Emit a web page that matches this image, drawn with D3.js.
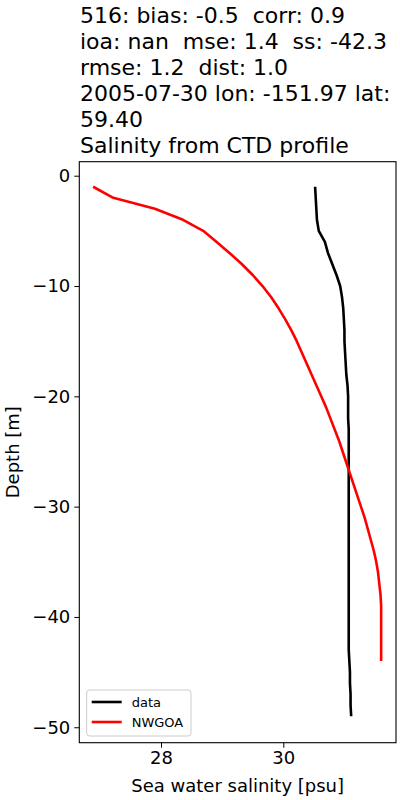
<!DOCTYPE html>
<html><head><meta charset="utf-8">
<script src="https://cdn.jsdelivr.net/npm/d3@7"></script>
<style>body{margin:0;background:#fff}svg{display:block}text{font-family:"DejaVu Sans",sans-serif;white-space:pre}</style>
</head><body><svg id="c" width="400" height="800"></svg>
<script>
const titleLines = ["516: bias: -0.5  corr: 0.9","ioa: nan  mse: 1.4  ss: -42.3","rmse: 1.2  dist: 1.0","2005-07-30 lon: -151.97 lat:","59.40","Salinity from CTD profile"];
const xTicks = [28, 30];
const yTicks = [0, -10, -20, -30, -40, -50];
const dataDepth = [-1,-2,-3,-4,-5,-6,-7,-8,-9,-10,-11,-12,-13,-14,-15,-16,-17,-18,-19,-20,-21,-22,-23,-24,-25,-26,-27,-28,-29,-30,-31,-32,-33,-34,-35,-36,-37,-38,-39,-40,-41,-42,-43,-44,-45,-46,-47,-48,-49];
const dataSal = [30.52,30.53,30.54,30.55,30.58,30.68,30.73,30.80,30.87,30.93,30.96,30.98,30.99,31.00,31.00,31.01,31.02,31.03,31.05,31.06,31.06,31.06,31.07,31.07,31.07,31.07,31.07,31.07,31.07,31.07,31.07,31.07,31.07,31.07,31.07,31.07,31.07,31.07,31.07,31.07,31.07,31.07,31.07,31.08,31.09,31.09,31.10,31.10,31.11];
const modelDepth = [-1,-2,-3,-4,-5,-6,-7,-8,-9,-10,-11,-12,-13,-14,-15,-16,-17,-18,-19,-20,-21,-22,-23,-24,-25,-26,-27,-28,-29,-30,-31,-32,-33,-34,-35,-36,-37,-38,-39,-40,-41,-42,-43,-44];
const modelSal = [26.89,27.22,27.90,28.36,28.69,28.91,29.12,29.32,29.50,29.66,29.80,29.92,30.03,30.13,30.22,30.30,30.38,30.46,30.54,30.62,30.70,30.77,30.84,30.91,30.97,31.03,31.09,31.15,31.21,31.27,31.33,31.38,31.43,31.48,31.52,31.55,31.57,31.59,31.60,31.60,31.60,31.60,31.60,31.60];
const seriesNames = ["data","NWGOA"];
const seriesColors = ["#000000","#ff0000"];

const svg = d3.select("#c");
const L = 79.3, R = 396, T = 161.7, B = 742.7;
const x = d3.scaleLinear().domain([26.664, 31.843]).range([L, R]);
const y = d3.scaleLinear().domain([1.27, -51.4]).range([T, B]);

// title
const tt = svg.append("text").attr("x", 80).attr("font-size", 22).attr("fill","#000");
titleLines.forEach((t,i)=>tt.append("tspan").attr("x",80).attr("y",22.5+i*26.1).text(t));

// lines
const line = d3.line().x(d=>x(d[0])).y(d=>y(d[1]));
const series = [d3.zip(dataSal, dataDepth), d3.zip(modelSal, modelDepth)];
series.forEach((s,i)=>{
  svg.append("path").attr("d", line(s)).attr("fill","none").attr("stroke",seriesColors[i]).attr("stroke-width",2.6).attr("stroke-linejoin","round");
});

// axes
const xa = svg.append("g").attr("transform",`translate(0,${B})`).call(d3.axisBottom(x).tickValues(xTicks).tickFormat(d3.format("d")).tickSize(5).tickPadding(4));
const ya = svg.append("g").attr("transform",`translate(${L},0)`).call(d3.axisLeft(y).tickValues(yTicks).tickFormat(d=>d<0?"\u2212"+Math.abs(d):d).tickSize(5).tickPadding(4));
[xa,ya].forEach(g=>{g.select(".domain").remove();g.selectAll("text").attr("font-size",18).attr("font-family","DejaVu Sans").attr("fill","#000");g.selectAll("line").attr("stroke","#000").attr("stroke-width",1);});
svg.append("rect").attr("x",L).attr("y",T).attr("width",R-L).attr("height",B-T).attr("fill","none").attr("stroke","#000").attr("stroke-width",1.1);

svg.append("text").attr("x",(L+R)/2).attr("y",791.5).attr("text-anchor","middle").attr("font-size",18).text("Sea water salinity [psu]");
svg.append("text").attr("transform",`translate(18.5,${(T+B)/2}) rotate(-90)`).attr("text-anchor","middle").attr("font-size",18).text("Depth [m]");

// legend
const lg = svg.append("g");
lg.append("rect").attr("x",86.7).attr("y",690).attr("width",104.3).attr("height",46).attr("rx",3).attr("fill","#fff").attr("fill-opacity",0.8).attr("stroke","#cccccc").attr("stroke-width",1);
seriesNames.forEach((n,i)=>{
  const yy = 702 + i*20;
  lg.append("line").attr("x1",91.7).attr("x2",121.7).attr("y1",yy).attr("y2",yy).attr("stroke",seriesColors[i]).attr("stroke-width",2.6);
  lg.append("text").attr("x",131.7).attr("y",yy+4.7).attr("font-size",13).text(n);
});
</script></body></html>
